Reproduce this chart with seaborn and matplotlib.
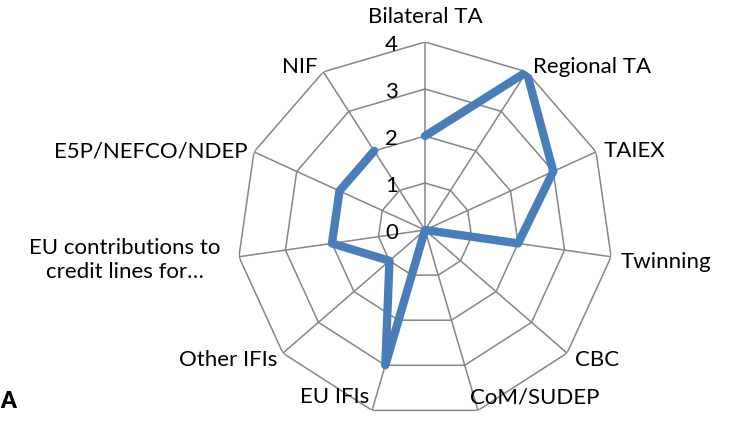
import numpy as np
import pandas as pd
import matplotlib
matplotlib.use("Agg")
import matplotlib.pyplot as plt
import seaborn as sns

categories = ["Bilateral TA", "Regional TA", "TAIEX", "Twinning", "CBC",
              "CoM/SUDEP", "EU IFIs", "Other IFIs",
              "EU contributions to\ncredit lines for…", "E5P/NEFCO/NDEP", "NIF"]
values = [2, 4, 3, 2, 0, 0, 3, 1, 2, 2, 2]
tick_values = [0, 1, 2, 3, 4]

sns.set_theme(style="white")
plt.rcParams['font.family'] = ['Lato', 'DejaVu Sans']

fig = plt.figure(figsize=(7.33, 4.37), dpi=100)
cx, cy, R = 425, 230, 188
W, H = 733, 437
ax = fig.add_axes([(cx - R) / W, (H - cy - R) / H, 2 * R / W, 2 * R / H], projection='polar')
ax.set_theta_offset(np.pi / 2)
ax.set_theta_direction(-1)
ax.set_ylim(0, 4)
ax.grid(False)
ax.spines['polar'].set_visible(False)
ax.set_xticks([])
ax.set_yticks([])
ax.patch.set_alpha(0)

n = len(categories)
angles = np.linspace(0, 2 * np.pi, n, endpoint=False)
grid_col = "#868686"
for r in tick_values[1:]:
    ax.plot(np.append(angles, angles[0]), [r] * (n + 1), color=grid_col, lw=1.1, zorder=1)
for a in angles:
    ax.plot([a, a], [0, 4], color=grid_col, lw=1.1, zorder=1)

df = pd.DataFrame({"theta": np.append(angles, angles[0]), "value": values + [values[0]]})
sns.lineplot(data=df, x="theta", y="value", sort=False, ax=ax, color="#4A7EBB",
             lw=6.0, zorder=3, solid_joinstyle='round', solid_capstyle='round')
ax.set_xlabel("")
ax.set_ylabel("")

FS = 16
for t in tick_values:
    ax.annotate(str(t), xy=(0, t), xytext=(-24, -2), textcoords='offset points',
                ha='center', va='center', fontsize=FS, color='black')

# category labels (pixel positions)
label_pos = {
    "Bilateral TA": (425, 17, 'center'),
    "Regional TA": (533, 67, 'left'),
    "TAIEX": (604, 151, 'left'),
    "Twinning": (621, 262, 'left'),
    "CBC": (575, 360, 'left'),
    "CoM/SUDEP": (470, 397, 'left'),
    "EU IFIs": (369, 397, 'right'),
    "Other IFIs": (277, 360, 'right'),
    "EU contributions to\ncredit lines for…": (125, 260, 'center'),
    "E5P/NEFCO/NDEP": (247, 152, 'right'),
    "NIF": (318, 67, 'right'),
}
for c in categories:
    x, y, ha = label_pos[c]
    fig.text(x / W, 1 - y / H, c, ha=ha, va='center', fontsize=FS, color='black',
             linespacing=1.3)

fig.text(0.5 / W, 1 - 402 / H, "A", ha='left', va='center', fontsize=16,
         fontweight='heavy', color='black')

fig.savefig("out.png", dpi=100)
